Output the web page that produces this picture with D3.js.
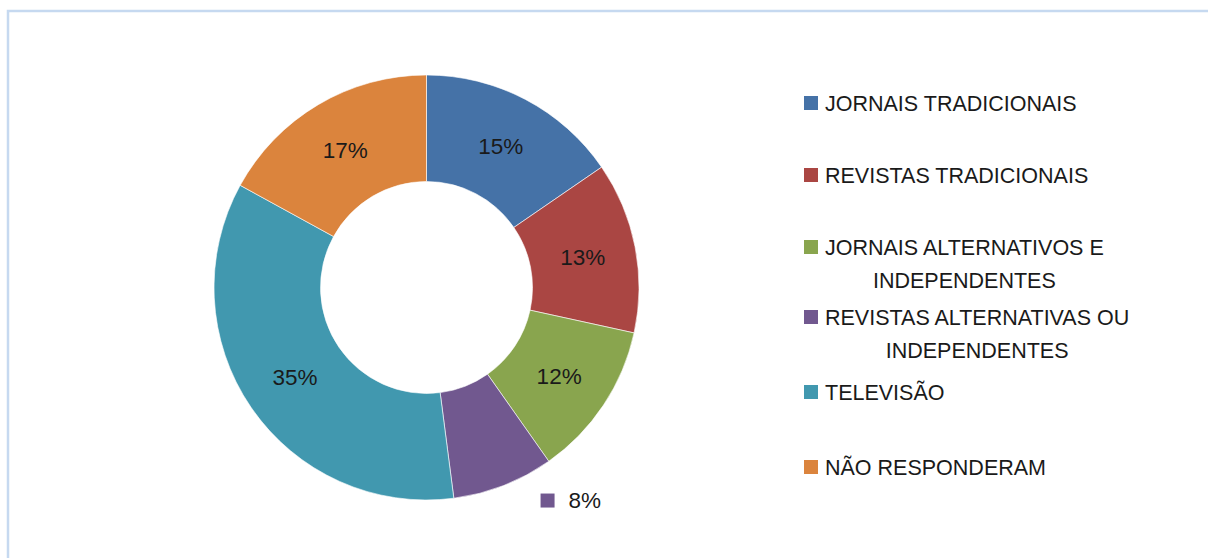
<!DOCTYPE html>
<html>
<head>
<meta charset="utf-8">
<script src="https://cdn.jsdelivr.net/npm/d3@7"></script>
<style>
  body { margin: 0; background: #fff; }
  text { font-family: "Liberation Sans", Arial, sans-serif; fill: #1a1a1a; }
</style>
</head>
<body>
<div id="chart"></div>
<script>
var width = 1208
var height = 558

// data (slice shares estimated from the angles, labels are rounded)
const categories = ["JORNAIS TRADICIONAIS", "REVISTAS TRADICIONAIS", "JORNAIS ALTERNATIVOS E INDEPENDENTES",
                    "REVISTAS ALTERNATIVAS OU INDEPENDENTES", "TELEVISÃO", "NÃO RESPONDERAM"];
const legendLines = [["JORNAIS TRADICIONAIS"], ["REVISTAS TRADICIONAIS"], ["JORNAIS ALTERNATIVOS E", "INDEPENDENTES"],
                     ["REVISTAS ALTERNATIVAS OU", "INDEPENDENTES"], ["TELEVISÃO"], ["NÃO RESPONDERAM"]];
const values = [15.4, 13.0, 11.8, 7.7, 35.0, 17.0];
const colors = ["#4572a7", "#aa4643", "#89a54e", "#71588f", "#4198af", "#db843d"];

var svg = d3.select("#chart").append("svg")
    .attr("width", width)
    .attr("height", height)

// chart frame (runs off the right / bottom edge)
svg.append("rect")
    .attr("x", 8).attr("y", 11)
    .attr("width", 1240).attr("height", 600)
    .attr("fill", "none")
    .attr("stroke", "#c6d9f0")
    .attr("stroke-width", 2.5)

const cx = 426.5, cy = 287.5
const outerR = 212.5, innerR = 106

const data = categories.map((c, i) => ({name: c, value: values[i], color: colors[i]}))
const total = d3.sum(values)
const pct = d => Math.round(d.data.value / total * 100) + "%"

const pie = d3.pie().value(d => d.value).sort(null)
const arc = d3.arc().innerRadius(innerR).outerRadius(outerR)
const arcs = pie(data)

const g = svg.append("g").attr("transform", `translate(${cx}, ${cy})`)

g.selectAll("path").data(arcs)
  .enter().append("path")
    .attr("d", arc)
    .attr("fill", d => d.data.color)
    .attr("stroke", "#fff")
    .attr("stroke-width", 0.6)

// labels inside the ring, small slice label outside with a key square
g.selectAll("text.lbl").data(arcs.filter(d => d.data.value >= 10))
  .enter().append("text")
    .attr("class", "lbl")
    .attr("transform", d => `translate(${arc.centroid(d)})`)
    .attr("text-anchor", "middle")
    .attr("dy", "0.35em")
    .style("font-size", "22.5px")
    .text(pct)

const small = arcs.filter(d => d.data.value < 10)
const outArc = d3.arc().innerRadius(outerR).outerRadius(outerR)
small.forEach(d => {
  const p = outArc.centroid(d)
  const lg = g.append("g").attr("transform", `translate(${p[0] + 44}, ${p[1] + 15})`)
  lg.append("rect").attr("x", -7).attr("y", -7).attr("width", 14).attr("height", 14).attr("fill", d.data.color)
  lg.append("text").attr("x", 21).attr("dy", "0.35em").style("font-size", "22.5px").text(pct(d))
})

// legend
const legendY = [103, 175, 247, 317, 392, 467]
const legend = svg.append("g").attr("transform", "translate(804, 0)")
const items = legend.selectAll("g").data(data)
  .enter().append("g")
    .attr("transform", (d, i) => `translate(0, ${legendY[i]})`)

items.append("rect")
    .attr("x", 0).attr("y", -7)
    .attr("width", 14).attr("height", 14)
    .attr("fill", d => d.color)

items.each(function(d, i) {
  const lines = legendLines[i]
  const t = d3.select(this).append("text")
      .style("font-size", "21.5px")
      .attr("dy", "0.35em")
  if (lines.length === 1) {
    t.attr("x", 21).text(lines[0])
  } else {
    const tmp = t.append("tspan").text(lines[0])
    const w = tmp.node().getComputedTextLength()
    tmp.remove()
    t.attr("text-anchor", "middle")
    lines.forEach((l, k) => {
      t.append("tspan").attr("x", 21 + w / 2).attr("dy", k === 0 ? "0.35em" : 33).text(l)
    })
  }
})
</script>
</body>
</html>
